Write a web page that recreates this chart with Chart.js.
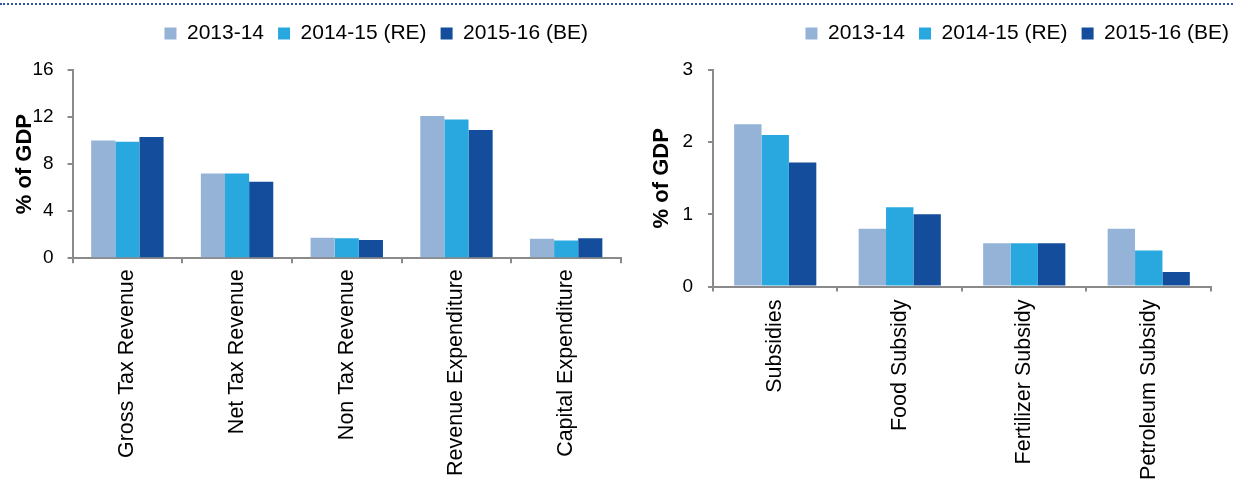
<!DOCTYPE html>
<html>
<head>
<meta charset="utf-8">
<script src="https://cdn.jsdelivr.net/npm/chart.js"></script>
<style>
  html, body { margin: 0; padding: 0; background: #fff; }
  body { width: 1233px; height: 480px; position: relative; overflow: hidden; }
  .rule { position: absolute; left: 0; top: 3px; width: 1233px; border-top: 2px dotted #2f56a6; }
  .box { position: absolute; }
  #leftBox { left: 0; top: 9px; width: 625px; height: 474px; }
  #rightBox { left: 649px; top: 9px; width: 584px; height: 479px; }
</style>
</head>
<body>
<div class="rule"></div>
<div class="box" id="leftBox"><canvas id="leftChart"></canvas></div>
<div class="box" id="rightBox"><canvas id="rightChart"></canvas></div>
<script>
const SERIES = ["2013-14", "2014-15 (RE)", "2015-16 (BE)"]
const COLORS = ["#95b3d7", "#29a8e0", "#134d9b"]

const LEFT_CATS = ["Gross Tax Revenue", "Net Tax Revenue", "Non Tax Revenue", "Revenue Expenditure", "Capital Expenditure"]
const LEFT_2013 = [10.0, 7.2, 1.75, 12.1, 1.65]
const LEFT_2014 = [9.9, 7.2, 1.7, 11.8, 1.5]
const LEFT_2015 = [10.3, 6.5, 1.55, 10.9, 1.7]

const RIGHT_CATS = ["Subsidies", "Food Subsidy", "Fertilizer Subsidy", "Petroleum Subsidy"]
const RIGHT_2013 = [2.25, 0.8, 0.6, 0.8]
const RIGHT_2014 = [2.1, 1.1, 0.6, 0.5]
const RIGHT_2015 = [1.72, 1.0, 0.6, 0.2]

const AXIS_GREY = "#8a8a8a"

Chart.defaults.font.family = "'Liberation Sans', Arial, sans-serif"
Chart.defaults.font.size = 21
Chart.defaults.color = "#000"

// nudges the legend sideways and leaves room under it, the source chart does not centre it
const legendShift = {
    id: "legendShift",
    beforeInit(chart, args, opts) {
        const fit = chart.legend.fit
        chart.legend.fit = function () {
            fit.bind(chart.legend)()
            this.height += opts.extra || 0
        }
    },
    afterLayout(chart, args, opts) {
        if (opts.dx) {
            chart.legend.left += opts.dx
            chart.legend.right += opts.dx
        }
    }
}

function makeChart(id, cats, values, yMax, yStep, o) {
    let datasets = values.map((vals, i) => ({
        label: SERIES[i],
        data: vals,
        backgroundColor: COLORS[i],
        borderWidth: 0
    }))
    return new Chart(document.getElementById(id).getContext("2d"), {
        type: "bar",
        data: {labels: cats, datasets: datasets},
        plugins: [legendShift],
        options: {
            animation: false,
            responsive: true,
            maintainAspectRatio: false,
            layout: {padding: {left: o.padLeft, right: o.padRight, top: 0, bottom: o.padBottom}},
            datasets: {bar: {categoryPercentage: 0.66, barPercentage: 1}},
            plugins: {
                legend: {
                    position: "top",
                    align: "end",
                    labels: {boxWidth: 12, boxHeight: 12, padding: 14, color: "#000", font: {size: 21}}
                },
                legendShift: {dx: o.dx, extra: 16},
                tooltip: {enabled: false}
            },
            scales: {
                x: {
                    grid: {display: true, drawOnChartArea: false, color: AXIS_GREY, lineWidth: 2, tickLength: 5, offset: true},
                    border: {color: AXIS_GREY, width: 2},
                    ticks: {minRotation: 90, maxRotation: 90, padding: o.xPad, color: "#000", font: {size: 21.5}}
                },
                y: {
                    min: 0,
                    max: yMax,
                    ticks: {stepSize: yStep, padding: o.yPad, color: "#000", font: {size: 19}},
                    grid: {display: true, drawOnChartArea: false, color: AXIS_GREY, lineWidth: 2, tickLength: 5},
                    border: {color: AXIS_GREY, width: 2},
                    title: {display: true, text: "% of GDP", font: {weight: "bold", size: 22}, color: "#000", padding: {top: 0, bottom: o.titleGap}}
                }
            }
        }
    })
}

makeChart("leftChart", LEFT_CATS, [LEFT_2013, LEFT_2014, LEFT_2015], 16, 4,
    {padLeft: 12, padRight: 4, padBottom: 1, xPad: 6, yPad: 14, titleGap: -20, dx: -19})
makeChart("rightChart", RIGHT_CATS, [RIGHT_2013, RIGHT_2014, RIGHT_2015], 3, 1,
    {padLeft: 0, padRight: 22, padBottom: 0, xPad: 8, yPad: 15, titleGap: -8, dx: 32})
</script>
</body>
</html>
